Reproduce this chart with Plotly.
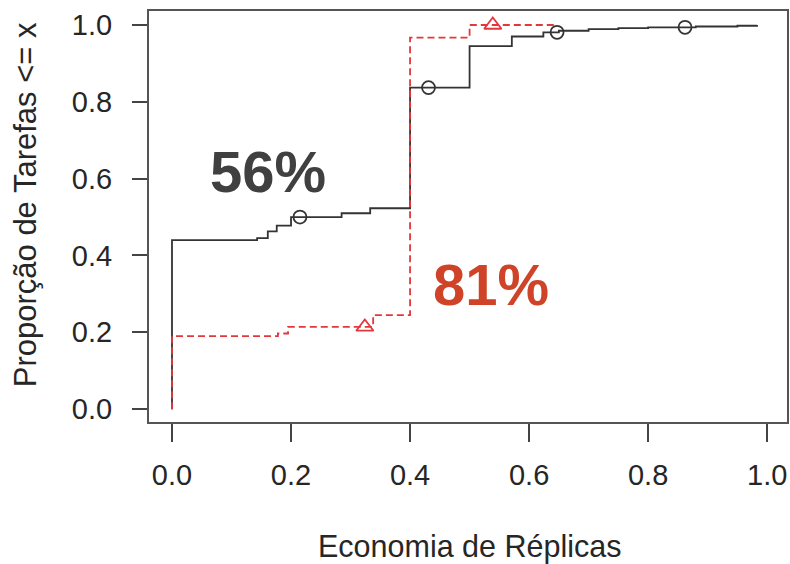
import plotly.graph_objects as go

# Step-function (ECDF) data: jump positions and cumulative proportion after each jump
x_black = [0.0, 0.0, 0.143, 0.161, 0.176, 0.200, 0.285, 0.333, 0.400, 0.500, 0.571, 0.624,
           0.650, 0.700, 0.750, 0.800, 0.880, 0.950, 0.983]
y_black = [0.0, 0.440, 0.445, 0.463, 0.478, 0.500, 0.510, 0.523, 0.837, 0.945, 0.970, 0.981,
           0.985, 0.989, 0.992, 0.994, 0.996, 0.998, 1.000]

x_red = [0.0, 0.0, 0.178, 0.195, 0.338, 0.400, 0.500, 0.645]
y_red = [0.0, 0.190, 0.197, 0.214, 0.245, 0.967, 1.000, 1.000]

# Marker positions along each curve
mark_black_x = [0.215, 0.431, 0.647, 0.862]
mark_red_x = [0.324, 0.539]

x_ticks = [0.0, 0.2, 0.4, 0.6, 0.8, 1.0]
y_ticks = [0.0, 0.2, 0.4, 0.6, 0.8, 1.0]
x_tick_text = ["0.0", "0.2", "0.4", "0.6", "0.8", "1.0"]
y_tick_text = ["0.0", "0.2", "0.4", "0.6", "0.8", "1.0"]

label_black = "56%"
label_red = "81%"
x_title = "Economia de Réplicas"
y_title = "Proporção de Tarefas <= x"


def step_value(xs, ys, x):
    val = ys[0]
    for xi, yi in zip(xs, ys):
        if xi <= x:
            val = yi
    return val


FONT = "Liberation Sans, Arial, sans-serif"
BLACK = "#333333"
RED = "#e2383c"

fig = go.Figure()

fig.add_trace(go.Scatter(
    x=x_black, y=y_black, mode="lines",
    line=dict(color=BLACK, width=1.8, shape="hv"),
    hoverinfo="skip", showlegend=False,
))
fig.add_trace(go.Scatter(
    x=x_red, y=y_red, mode="lines",
    line=dict(color=RED, width=1.8, shape="hv", dash="7px,4px"),
    hoverinfo="skip", showlegend=False,
))
fig.add_trace(go.Scatter(
    x=mark_black_x, y=[step_value(x_black, y_black, v) for v in mark_black_x],
    mode="markers",
    marker=dict(symbol="circle-open", size=13, color=BLACK, line=dict(width=1.8)),
    hoverinfo="skip", showlegend=False,
))
fig.add_trace(go.Scatter(
    x=mark_red_x, y=[step_value(x_red, y_red, v) for v in mark_red_x],
    mode="markers",
    marker=dict(symbol="triangle-up-open", size=15, color=RED, line=dict(width=1.8)),
    hoverinfo="skip", showlegend=False,
))

axis_common = dict(
    showgrid=False, zeroline=False, showline=False,
    ticks="outside", tickcolor="#444444", tickwidth=1.5,
    tickfont=dict(family=FONT, size=29, color="#262626"),
)

fig.update_layout(
    width=790, height=564,
    margin=dict(l=148, r=2, t=10, b=141),
    paper_bgcolor="white", plot_bgcolor="white",
    xaxis=dict(range=[-0.0403, 1.035], tickvals=x_ticks, ticktext=x_tick_text,
               ticklen=18, ticklabelstandoff=8, **axis_common),
    yaxis=dict(range=[-0.036, 1.039], tickvals=y_ticks, ticktext=y_tick_text,
               ticklen=15, ticklabelstandoff=14, **axis_common),
    shapes=[dict(type="rect", xref="paper", yref="paper", x0=0, y0=0, x1=1, y1=1,
                 line=dict(color="#555555", width=2))],
    annotations=[
        dict(text=f"<b>{label_black}</b>", xref="paper", yref="paper", x=0.1875, y=0.6087,
             showarrow=False, xanchor="center", yanchor="middle",
             font=dict(family=FONT, size=58, color="#404040")),
        dict(text=f"<b>{label_red}</b>", xref="paper", yref="paper", x=0.536, y=0.336,
             showarrow=False, xanchor="center", yanchor="middle",
             font=dict(family=FONT, size=58, color="#cf4428")),
        dict(text=x_title, xref="paper", yref="paper", x=0.503, y=-0.2988,
             showarrow=False, xanchor="center", yanchor="middle",
             font=dict(family=FONT, size=30.5, color="#262626")),
        dict(text=y_title, xref="paper", yref="paper", x=-0.192, y=0.5275,
             showarrow=False, xanchor="center", yanchor="middle", textangle=-90,
             font=dict(family=FONT, size=31, color="#262626")),
    ],
)

fig.write_html("out.html")
